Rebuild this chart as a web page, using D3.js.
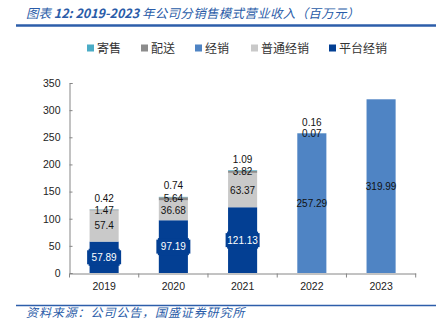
<!DOCTYPE html>
<html><head><meta charset="utf-8">
<script src="https://cdn.jsdelivr.net/npm/d3@7"></script>
<style>body{margin:0;background:#fff}svg{display:block}</style>
</head><body>
<script>
const years = ["2019","2020","2021","2022","2023"];
const seriesNames = ["平台经销","普通经销","经销","配送","寄售"];
const platform = [57.89, 97.19, 121.13, 0, 0];
const ordinary = [57.4, 36.68, 63.37, 0, 0];
const distrib = [0, 0, 0, 257.29, 319.99];
const delivery = [1.47, 5.64, 3.82, 0.07, 0];
const consign = [0.42, 0.74, 1.09, 0.16, 0];
const yTicks = [0, 50, 100, 150, 200, 250, 300, 350];
const legendOrder = ["寄售","配送","经销","普通经销","平台经销"];
const colors = {"平台经销":"#033f93","普通经销":"#c9c9c9","经销":"#4f84c4","配送":"#8c8c8c","寄售":"#4bacc6"};
const seriesVals = {"平台经销":platform,"普通经销":ordinary,"经销":distrib,"配送":delivery,"寄售":consign};

const W = 439, H = 332;
const svg = d3.select("body").append("svg").attr("width", W).attr("height", H);

// title
const title = svg.append("text").attr("x", 26).attr("y", 18)
  .attr("font-family", "'Noto Sans CJK SC', 'DejaVu Sans', sans-serif")
  .attr("font-size", 12.5).attr("font-style", "italic")
  .attr("fill", "#2a5ca8");
title.append("tspan").text("图表 ");
title.append("tspan").attr("font-weight", "bold").text("12:  2019-2023 ");
title.append("tspan").attr("letter-spacing", 0.3).text("年公司分销售模式营业收入（百万元）");
svg.append("line").attr("x1", 16).attr("x2", 436).attr("y1", 25.5).attr("y2", 25.5)
  .attr("stroke", "#2d5eaa").attr("stroke-width", 2.5);

// legend
const legX = [87, 141, 195, 251, 329];
legendOrder.forEach((n, i) => {
  svg.append("rect").attr("x", legX[i]).attr("y", 44.5).attr("width", 7).attr("height", 7).attr("fill", colors[n]);
  svg.append("text").attr("x", legX[i] + 10).attr("y", 52.5)
    .attr("font-family", "'Noto Sans CJK SC', sans-serif").attr("font-size", 12)
    .attr("fill", "#333").text(n);
});

const x = d3.scaleBand().domain(years).range([69.5, 415.7]).paddingInner(0.58).paddingOuter(0.29);
const y = d3.scaleLinear().domain([0, 350]).range([273, 83]);

const data = years.map((yr, i) => {
  const o = {year: yr};
  seriesNames.forEach(s => o[s] = seriesVals[s][i]);
  return o;
});
const stack = d3.stack().keys(seriesNames)(data);

// bars
stack.forEach(layer => {
  svg.append("g").selectAll("rect").data(layer).join("rect")
    .attr("x", d => x(d.data.year)).attr("width", x.bandwidth())
    .attr("y", d => y(d[1])).attr("height", d => y(d[0]) - y(d[1]))
    .attr("fill", colors[layer.key]);
});

// axes
const axisColor = "#868686";
const yAxis = svg.append("g").attr("transform", "translate(69.5,0)")
  .call(d3.axisLeft(y).tickValues(yTicks).tickSize(-3).tickPadding(9));
const xAxis = svg.append("g").attr("transform", "translate(0,273.5)")
  .call(d3.axisBottom(x).tickSize(0).tickPadding(9));
[yAxis, xAxis].forEach(g => {
  g.select(".domain").attr("stroke", axisColor);
  g.selectAll(".tick line").attr("stroke", axisColor);
  g.selectAll("text").attr("font-family", "'Liberation Sans', Arial, sans-serif")
    .attr("font-size", 10.5).attr("fill", "#222");
});
// x boundary ticks
const step = x.step();
const edges = [];
for (let i = 0; i <= years.length; i++) edges.push(x(years[0]) + x.bandwidth()/2 - step/2 + i * step);
svg.append("g").selectAll("line").data(edges).join("line")
  .attr("x1", d => d).attr("x2", d => d).attr("y1", 273.5).attr("y2", 277.5)
  .attr("stroke", axisColor);

// labels
const lblFont = "'Liberation Sans', Arial, sans-serif";
stack.forEach(layer => {
  const key = layer.key;
  layer.forEach(d => {
    const v = d.data[key];
    if (!v) return;
    const cx = x(d.data.year) + x.bandwidth() / 2;
    let cy = y((d[0] + d[1]) / 2);
    if (key === "寄售") cy = y(d[1]) - 11;
    if (key === "平台经销") {
      svg.append("rect").attr("x", cx - 17).attr("y", cy - 7).attr("width", 34).attr("height", 14).attr("fill", colors[key]);
      svg.append("rect").attr("x", cx - 15.5).attr("y", cy - 8.5).attr("width", 31).attr("height", 17).attr("fill", colors[key]);
    }
    svg.append("text").attr("x", cx).attr("y", cy).attr("dy", "0.35em")
      .attr("text-anchor", "middle").attr("font-family", lblFont).attr("font-size", 10)
      .attr("fill", key === "平台经销" ? "#fff" : "#111").text(v);
  });
});

// footer
svg.append("line").attr("x1", 16).attr("x2", 436).attr("y1", 305.5).attr("y2", 305.5)
  .attr("stroke", "#2d5eaa").attr("stroke-width", 1.5);
svg.append("text").attr("x", 26).attr("y", 317)
  .attr("font-family", "'Noto Sans CJK SC', sans-serif").attr("font-size", 12)
  .attr("letter-spacing", 0.9)
  .attr("font-style", "italic").attr("fill", "#2a5ca8")
  .text("资料来源：公司公告，国盛证券研究所");
</script>
</body></html>
